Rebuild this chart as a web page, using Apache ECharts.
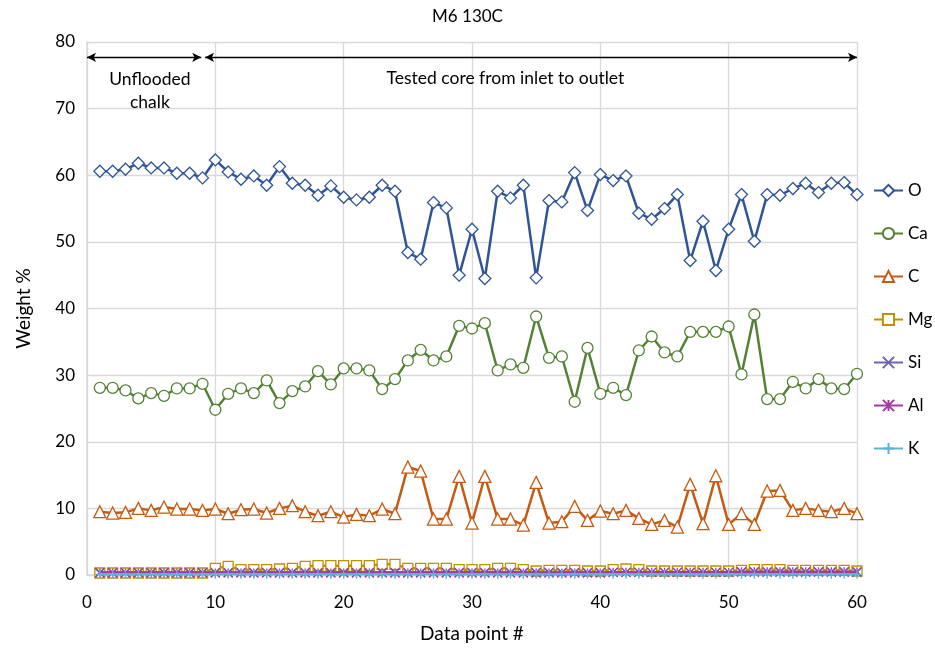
<!DOCTYPE html>
<html>
<head>
<meta charset="utf-8">
<script src="https://cdn.jsdelivr.net/npm/echarts@6/dist/echarts.min.js"></script>
<style>html,body{margin:0;padding:0;background:#fff}#c{width:935px;height:650px}</style>
</head>
<body>
<div id="c"></div>
<script>
var FONT = 'Lato, "Open Sans", sans-serif';
var seriesNames = ['O', 'Ca', 'C', 'Mg', 'Si', 'Al', 'K'];
var xTicks = [0, 10, 20, 30, 40, 50, 60];
var yTicks = [0, 10, 20, 30, 40, 50, 60, 70, 80];

var O = [60.6,60.6,60.9,61.8,61.1,61.1,60.3,60.3,59.6,62.3,60.5,59.4,59.9,58.5,61.3,58.8,58.5,57.0,58.4,56.7,
         56.3,56.7,58.5,57.6,48.4,47.4,55.9,55.1,45.0,51.9,44.5,57.6,56.6,58.5,44.6,56.2,56.0,60.4,54.7,60.1,
         59.2,59.9,54.3,53.4,55.0,57.1,47.2,53.1,45.7,51.9,57.1,50.1,57.1,57.0,58.0,58.8,57.4,58.8,58.9,57.1];
var Ca = [28.1,28.1,27.7,26.5,27.3,26.9,28.0,28.0,28.7,24.8,27.2,28.0,27.3,29.2,25.8,27.6,28.3,30.6,28.6,31.0,
          31.0,30.7,27.9,29.4,32.2,33.8,32.2,32.8,37.4,37.0,37.8,30.7,31.6,31.1,38.8,32.6,32.8,26.0,34.1,27.2,
          28.1,27.0,33.7,35.8,33.4,32.8,36.5,36.5,36.5,37.3,30.1,39.1,26.4,26.4,29.0,28.0,29.4,28.0,27.9,30.2];
var C = [9.5,9.3,9.4,10.0,9.7,10.2,9.9,9.9,9.7,9.9,9.2,9.8,9.9,9.3,10.0,10.4,9.5,8.9,9.5,8.7,
         9.1,8.9,9.9,9.2,16.2,15.6,8.4,8.4,14.8,7.8,14.8,8.4,8.4,7.5,13.9,7.8,8.0,10.3,8.2,9.6,
         9.2,9.7,8.5,7.6,8.2,7.2,13.6,7.7,14.9,7.6,9.2,7.6,12.6,12.7,9.7,10.0,9.7,9.5,10.0,9.2];
var Mg = [0.3,0.3,0.3,0.3,0.3,0.3,0.3,0.3,0.3,1.0,1.3,0.8,0.8,0.8,0.9,1.0,1.3,1.4,1.4,1.4,
          1.4,1.4,1.6,1.6,1.0,1.0,1.0,1.0,0.8,0.8,0.8,1.0,1.0,0.8,0.6,0.7,0.7,0.7,0.6,0.6,
          0.8,0.9,0.8,0.6,0.6,0.6,0.6,0.6,0.6,0.6,0.7,0.8,0.8,0.8,0.7,0.7,0.7,0.7,0.7,0.6];
var Si = [0.4,0.4,0.4,0.4,0.4,0.4,0.4,0.4,0.4,0.4,0.4,0.4,0.4,0.4,0.4,0.4,0.4,0.4,0.4,0.4,
          0.4,0.4,0.4,0.4,0.4,0.4,0.4,0.4,0.4,0.4,0.4,0.4,0.4,0.4,0.4,0.4,0.4,0.4,0.4,0.4,
          0.4,0.4,0.4,0.4,0.4,0.4,0.4,0.4,0.4,0.4,0.4,0.4,0.4,0.4,0.4,0.4,0.4,0.4,0.4,0.4];
var Al = [0.3,0.3,0.3,0.3,0.3,0.3,0.3,0.3,0.3,0.3,0.3,0.3,0.3,0.3,0.3,0.3,0.3,0.3,0.3,0.3,
          0.3,0.3,0.3,0.3,0.3,0.3,0.3,0.3,0.3,0.3,0.3,0.3,0.3,0.3,0.3,0.3,0.3,0.3,0.3,0.3,
          0.4,0.4,0.4,0.4,0.4,0.4,0.4,0.4,0.4,0.4,0.5,0.5,0.5,0.5,0.5,0.5,0.5,0.5,0.5,0.5];
var K = [0.1,0.1,0.1,0.1,0.1,0.1,0.1,0.1,0.1,0.1,0.1,0.1,0.1,0.1,0.1,0.1,0.1,0.1,0.1,0.1,
         0.1,0.1,0.1,0.1,0.1,0.1,0.1,0.1,0.1,0.1,0.1,0.1,0.1,0.1,0.1,0.1,0.1,0.1,0.1,0.1,
         0.1,0.1,0.1,0.1,0.1,0.1,0.1,0.1,0.1,0.1,0.1,0.1,0.1,0.1,0.1,0.1,0.1,0.1,0.1,0.1];

var annoArrows = [[0, 8.9], [9.2, 60]];
var annoY = 77.7;
var annoTexts = [
  {text: 'Unflooded\nchalk', x: 4.9, y: 72.7},
  {text: 'Tested core from inlet to outlet', x: 32.6, y: 74.6}
];

var colors = ['#2F5597', '#548235', '#C55A11', '#BF9000', '#7060B0', '#A03CA0', '#5BB4D6'];
var symbols = ['diamond', 'circle', 'triangle', 'rect',
  'path://M0,0L10,10M10,0L0,10',
  'path://M0,0L10,10M10,0L0,10M5,0L5,10',
  'path://M0,5L10,5M5,0L5,10'];
var sizes = [12, 11, 12, 10, 9, 9, 9];
var allData = [O, Ca, C, Mg, Si, Al, K];

function toPairs(arr) { return arr.map(function (v, i) { return [i + 1, v]; }); }

var series = seriesNames.map(function (name, k) {
  var s = {
    name: name,
    type: 'line',
    data: toPairs(allData[k]),
    symbol: symbols[k],
    symbolSize: sizes[k],
    showAllSymbol: true,
    lineStyle: {color: colors[k], width: 2.5},
    itemStyle: {color: k < 4 ? '#ffffff' : colors[k], borderColor: colors[k], borderWidth: 1.3},
    emphasis: {disabled: true},
    z: 2 + k
  };
  if (k === 0) {
    s.markLine = {
      silent: true, animation: false,
      symbol: ['arrow', 'arrow'], symbolSize: [7, 9],
      lineStyle: {color: '#000', width: 1.3, type: 'solid'},
      label: {show: false},
      data: annoArrows.map(function (a) { return [{coord: [a[0], annoY]}, {coord: [a[1], annoY]}]; })
    };
    s.markPoint = {
      silent: true, animation: false,
      symbol: 'rect', symbolSize: 0,
      data: annoTexts.map(function (t) {
        return {coord: [t.x, t.y], label: {show: true, formatter: t.text, position: 'inside',
          color: '#000', fontSize: 17.5, fontFamily: FONT, lineHeight: 23, align: 'center'}};
      })
    };
  }
  return s;
});

var chart = echarts.init(document.getElementById('c'), null, {renderer: 'canvas'});
chart.setOption({
  animation: false,
  backgroundColor: '#fff',
  title: {text: 'M6 130C', left: 'center', top: 3,
    textStyle: {fontFamily: FONT, fontSize: 17, fontWeight: 'normal', color: '#000'}},
  grid: {left: 87, right: 78, top: 42, bottom: 75, containLabel: false},
  legend: {
    orient: 'vertical', left: 868, top: 177, itemGap: 26, itemWidth: 29, itemHeight: 14,
    textStyle: {fontFamily: FONT, fontSize: 17, color: '#000'},
    data: seriesNames
  },
  xAxis: {
    type: 'value', min: xTicks[0], max: xTicks[xTicks.length - 1], interval: 10,
    name: 'Data point #', nameLocation: 'middle', nameGap: 49,
    nameTextStyle: {fontFamily: FONT, fontSize: 19, color: '#000'},
    axisLine: {show: true, lineStyle: {color: '#d9d9d9', width: 1.5}},
    axisTick: {show: false},
    axisLabel: {fontFamily: FONT, fontSize: 17, color: '#000', margin: 19},
    splitLine: {show: true, lineStyle: {color: '#d9d9d9', width: 1.3}}
  },
  yAxis: {
    type: 'value', min: yTicks[0], max: yTicks[yTicks.length - 1], interval: 10,
    name: 'Weight %', nameLocation: 'middle', nameGap: 54,
    nameTextStyle: {fontFamily: FONT, fontSize: 19, color: '#000'},
    axisLine: {show: true, lineStyle: {color: '#d9d9d9', width: 1.5}},
    axisTick: {show: false},
    axisLabel: {fontFamily: FONT, fontSize: 17, color: '#000', margin: 12},
    splitLine: {show: true, lineStyle: {color: '#d9d9d9', width: 1.3}}
  },
  series: series
});
</script>
</body>
</html>
